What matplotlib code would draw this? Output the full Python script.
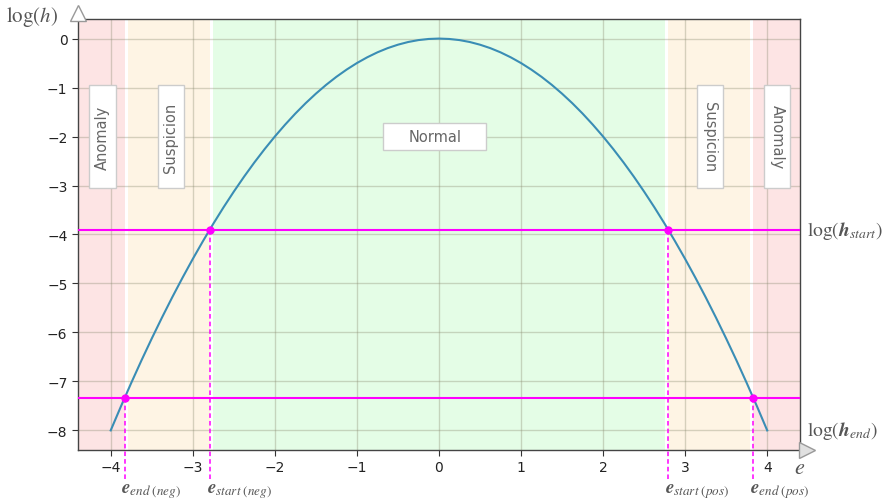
import matplotlib
matplotlib.use("Agg")
import matplotlib.pyplot as plt
from matplotlib.patches import Rectangle
from matplotlib.transforms import offset_copy

# ---- data ----
e_vals = [-4.0, -3.875, -3.75, -3.625, -3.5, -3.375, -3.25, -3.125, -3.0, -2.875,
          -2.75, -2.625, -2.5, -2.375, -2.25, -2.125, -2.0, -1.875, -1.75, -1.625,
          -1.5, -1.375, -1.25, -1.125, -1.0, -0.875, -0.75, -0.625, -0.5, -0.375,
          -0.25, -0.125, 0.0, 0.125, 0.25, 0.375, 0.5, 0.625, 0.75, 0.875, 1.0,
          1.125, 1.25, 1.375, 1.5, 1.625, 1.75, 1.875, 2.0, 2.125, 2.25, 2.375,
          2.5, 2.625, 2.75, 2.875, 3.0, 3.125, 3.25, 3.375, 3.5, 3.625, 3.75,
          3.875, 4.0]
log_h = [-8.0, -7.508, -7.031, -6.570, -6.125, -5.695, -5.281, -4.883, -4.5, -4.133,
         -3.781, -3.445, -3.125, -2.820, -2.531, -2.258, -2.0, -1.758, -1.531, -1.320,
         -1.125, -0.945, -0.781, -0.633, -0.5, -0.383, -0.281, -0.195, -0.125, -0.070,
         -0.031, -0.008, 0.0, -0.008, -0.031, -0.070, -0.125, -0.195, -0.281, -0.383,
         -0.5, -0.633, -0.781, -0.945, -1.125, -1.320, -1.531, -1.758, -2.0, -2.258,
         -2.531, -2.820, -3.125, -3.445, -3.781, -4.133, -4.5, -4.883, -5.281, -5.695,
         -6.125, -6.570, -7.031, -7.508, -8.0]
log_h_start = -3.9
log_h_end = -7.33
e_start = 2.79
e_end = 3.83
x_ticks = [-4, -3, -2, -1, 0, 1, 2, 3, 4]
y_ticks = [0, -1, -2, -3, -4, -5, -6, -7, -8]
zone_labels = ["Anomaly", "Suspicion", "Normal", "Suspicion", "Anomaly"]
zone_label_x = [-4.10, -3.27, -0.05, 3.30, 4.12]
zone_label_y = [-2.0, -2.0, -2.0, -2.0, -2.0]

RED = "#fde4e4"
ORANGE = "#fef4e4"
GREEN = "#e4fde6"
MAG = "#ff00ff"
TXT = "#555555"

plt.rcParams["mathtext.fontset"] = "stix"

fig = plt.figure(figsize=(8.85, 5.02), dpi=100)
ax = fig.add_axes([0.088, 0.1016, 0.816, 0.8586])
xmin, xmax = -4.4, 4.4
ymin, ymax = -8.4, 0.4
ax.set_xlim(xmin, xmax)
ax.set_ylim(ymin, ymax)

gap = 0.04
ax.axvspan(xmin, -e_end, color=RED, lw=0, zorder=0)
ax.axvspan(-e_end + gap, -e_start, color=ORANGE, lw=0, zorder=0)
ax.axvspan(-e_start + gap, e_start - gap, color=GREEN, lw=0, zorder=0)
ax.axvspan(e_start, e_end - gap, color=ORANGE, lw=0, zorder=0)
ax.axvspan(e_end, xmax, color=RED, lw=0, zorder=0)

ax.set_xticks(x_ticks)
ax.set_yticks(y_ticks)
ax.set_xticklabels([f"{t}".replace("-", "\u2212") for t in x_ticks])
ax.set_yticklabels([f"{t}".replace("-", "\u2212") for t in y_ticks])
ax.grid(True, color="#8a8a70", alpha=0.35, lw=1.0, zorder=1)
ax.set_axisbelow(True)
ax.tick_params(axis="both", labelsize=10, length=4, color="#333333", labelcolor="#222222")
for s in ax.spines.values():
    s.set_color("#444444")
    s.set_linewidth(1.0)

# zone boxes
for lab, cx, cy in zip(zone_labels, zone_label_x, zone_label_y):
    if lab == "Normal":
        w, h, rot = 1.256, 0.55, 0
    else:
        w, h = 0.317, 2.10
        rot = 90 if cx < 0 else 270
    ax.add_patch(Rectangle((cx - w / 2, cy - h / 2), w, h, facecolor="white",
                           edgecolor="#cccccc", lw=1.0, zorder=3))
    ax.text(cx, cy, lab, rotation=rot, ha="center", va="center", fontsize=10.5,
            color="#666666", zorder=4, rotation_mode="anchor")

# threshold lines
ax.axhline(log_h_start, color=MAG, lw=1.5, zorder=5)
ax.axhline(log_h_end, color=MAG, lw=1.5, zorder=5)

# curve
ax.plot(e_vals, log_h, color="#3a8db5", lw=1.5, zorder=6)

# intersection points and dashed drops
pts = [(-e_end, log_h_end), (-e_start, log_h_start), (e_start, log_h_start), (e_end, log_h_end)]
for px, py in pts:
    ax.plot([px, px], [py, -9.0], color=MAG, lw=1.1, ls=(0, (3, 2)), clip_on=False, zorder=5)
    ax.plot([px], [py], "o", color=MAG, ms=5, zorder=7)

# e labels under axis
e_labels = [r"$\boldsymbol{e}_{\mathit{end\ (neg)}}$", r"$\boldsymbol{e}_{\mathit{start\ (neg)}}$",
            r"$\boldsymbol{e}_{\mathit{start\ (pos)}}$", r"$\boldsymbol{e}_{\mathit{end\ (pos)}}$"]
for (px, py), lab in zip(pts, e_labels):
    ax.text(px - 0.04, -9.22, lab, ha="left", va="center", fontsize=13.5, color=TXT, clip_on=False)

# right labels
ax.text(1.01, (log_h_start - ymin) / (ymax - ymin), r"$\log(\boldsymbol{h}_{\mathit{start}})$",
        transform=ax.transAxes, ha="left", va="center", fontsize=14, color=TXT)
ax.text(1.01, (log_h_end - ymin) / (ymax - ymin) - 0.075, r"$\log(\boldsymbol{h}_{\mathit{end}})$",
        transform=ax.transAxes, ha="left", va="center", fontsize=14, color=TXT)

# axis names
ax.text(-0.028, 1.006, r"$\log(h)$", transform=ax.transAxes, ha="right", va="center",
        fontsize=15, color=TXT)
ax.text(1.0, -0.04, r"$e$", transform=ax.transAxes, ha="center", va="center",
        fontsize=16, color=TXT)

# arrow heads
top_tr = offset_copy(ax.transAxes, fig=fig, x=0, y=6, units="dots")
right_tr = offset_copy(ax.transAxes, fig=fig, x=7, y=0, units="dots")
ax.plot([0], [1.0], marker="^", ms=11, mfc="white", mec="#999999", mew=1.0,
        transform=top_tr, clip_on=False, zorder=8)
ax.plot([1.0], [0], marker=">", ms=11, mfc="#e0e0e0", mec="#999999", mew=1.0,
        transform=right_tr, clip_on=False, zorder=8)

fig.savefig("out.png", dpi=100)
